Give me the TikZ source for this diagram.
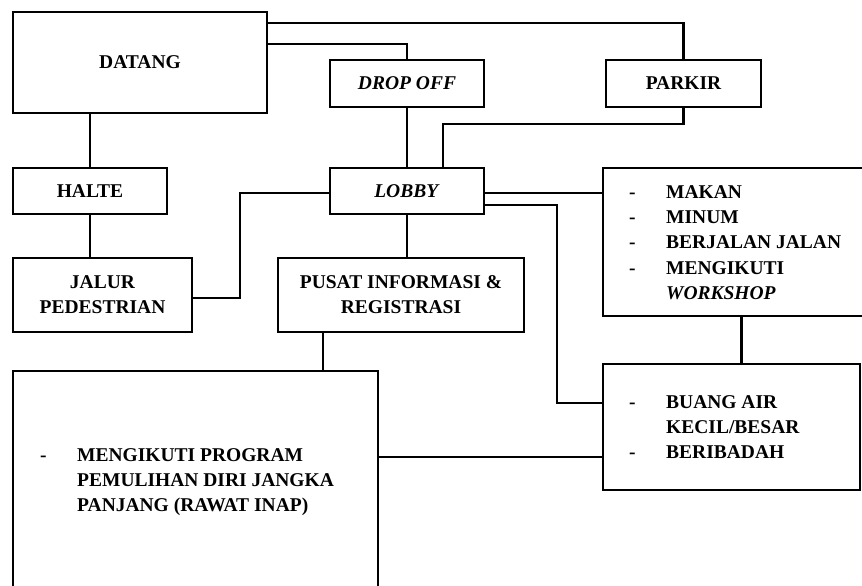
\documentclass[tikz,border=0pt]{standalone}
\usepackage{fontspec}
\setmainfont{Liberation Serif}
\tikzset{
  box/.style={draw, line width=1.5pt, inner sep=0pt, align=center,
    font=\bfseries\fontsize{19.5}{25.2}\selectfont},
  conn/.style={line width=2.1pt},
  listtext/.style={inner sep=0pt, anchor=base west,
    font=\bfseries\fontsize{19.5}{25.2}\selectfont}
}
\begin{document}
\begin{tikzpicture}[x=1pt,y=-1pt]
\useasboundingbox (0,0) rectangle (862,586);
\clip (0,0) rectangle (862,586);
% boxes
\node[box, minimum width=254pt, minimum height=101pt] (datang) at (140,62.5) {DATANG};
\node[box, minimum width=154pt, minimum height=47pt] (dropoff) at (407,83.5) {\textit{DROP OFF}};
\node[box, minimum width=155pt, minimum height=47pt] (parkir) at (683.5,83.5) {PARKIR};
\node[box, minimum width=154pt, minimum height=46pt] (halte) at (90,191) {HALTE};
\node[box, minimum width=154pt, minimum height=46pt] (lobby) at (407,191) {\textit{LOBBY}};
\node[box, minimum width=179pt, minimum height=74pt] (jalur) at (102.5,295) {JALUR\\PEDESTRIAN};
\node[box, minimum width=246pt, minimum height=74pt] (pusat) at (401,295) {PUSAT INFORMASI \&\\REGISTRASI};
\node[box, minimum width=277pt, minimum height=148pt] (act) at (741.5,242) {};
\node[box, minimum width=257pt, minimum height=126pt] (buang) at (731.5,427) {};
\node[box, minimum width=365pt, minimum height=229pt] (big) at (195.5,485.5) {};
% list texts
\node[listtext] (acttxt) at (629,198.5) {\begin{tabular}[t]{@{}p{37pt}@{}l@{}}-&MAKAN\\-&MINUM\\-&BERJALAN JALAN\\-&MENGIKUTI\\&\textit{WORKSHOP}\end{tabular}};
\node[listtext] (buangtxt) at (629,408.5) {\begin{tabular}[t]{@{}p{37pt}@{}l@{}}-&BUANG AIR\\&KECIL/BESAR\\-&BERIBADAH\end{tabular}};
\node[listtext] (bigtxt) at (40,461.5) {\begin{tabular}[t]{@{}p{37pt}@{}l@{}}-&MENGIKUTI PROGRAM\\&PEMULIHAN DIRI JANGKA\\&PANJANG (RAWAT INAP)\end{tabular}};
% helper coordinates
\coordinate (y23) at (0,23);
\coordinate (y44) at (0,44);
\coordinate (y193) at (0,193);
\coordinate (pk) at (443,124);
\coordinate (lj) at (240,0);
\coordinate (pb) at (323,0);
\coordinate (y205) at (0,205);
\coordinate (x557) at (557,403);
\coordinate (y457) at (0,457);
\coordinate (y298) at (0,298);
% connectors
\draw[conn] (datang.east |- y23) -| (parkir.north);
\draw[conn] (datang.east |- y44) -| (dropoff.north);
\draw[conn] (dropoff.south) -- (lobby.north);
\draw[conn] (parkir.south) |- (pk) -- (pk |- lobby.north);
\draw[conn] (halte.north) -- (halte.north |- datang.south);
\draw[conn] (halte.south) -- (halte.south |- jalur.north);
\draw[conn] (lobby.west |- y193) -| (lj |- y298) -- (jalur.east |- y298);
\draw[conn] (lobby.south) -- (lobby.south |- pusat.north);
\draw[conn] (pb |- pusat.south) -- (pb |- big.north);
\draw[conn] (lobby.east |- y193) -- (act.west |- y193);
\draw[conn] (lobby.east |- y205) -| (x557) -- (x557 -| buang.west);
\draw[conn] (act.south) -- (act.south |- buang.north);
\draw[conn] (big.east |- y457) -- (buang.west |- y457);
\end{tikzpicture}
\end{document}
